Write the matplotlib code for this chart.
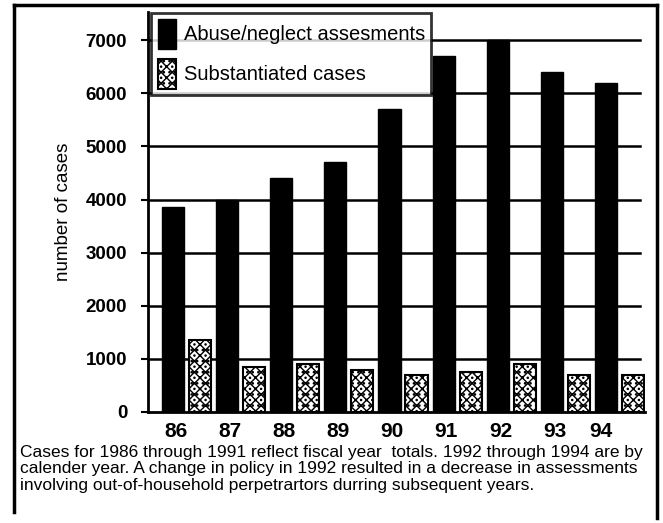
import matplotlib
matplotlib.use("Agg")
import matplotlib.pyplot as plt
from matplotlib.lines import Line2D
import numpy as np

years = ["86", "87", "88", "89", "90", "91", "92", "93", "94"]
assessments = [3850, 4000, 4400, 4700, 5700, 6700, 7000, 6400, 6200]
substantiated = [1350, 850, 900, 800, 700, 750, 900, 700, 700]
yticks = [0, 1000, 2000, 3000, 4000, 5000, 6000, 7000]
caption = ("Cases for 1986 through 1991 reflect fiscal year  totals. 1992 through 1994 are by\n"
           "calender year. A change in policy in 1992 resulted in a decrease in assessments\n"
           "involving out-of-household perpetrartors durring subsequent years.")

plt.rcParams['font.family'] = ['Liberation Sans', 'DejaVu Sans']
plt.rcParams['hatch.linewidth'] = 1.0

W, H = 663, 523
fig = plt.figure(figsize=(W / 100, H / 100), dpi=100)
ax = fig.add_axes([148 / W, 1 - 412 / H, (645 - 148) / W, (412 - 12) / H])

x = np.arange(len(years))
bw = 0.41
ax.bar(x, assessments, width=bw, color="black", edgecolor="black", zorder=3,
       label="Abuse/neglect assesments")
ax.bar(x + 0.5, substantiated, width=bw, color="white", edgecolor="black",
       hatch="xxx...", linewidth=1.5, zorder=3, label="Substantiated cases")

ax.set_xlim(-0.46, 8.72)
ax.set_ylim(0, 7530)
ax.set_yticks(yticks)
ax.set_yticklabels([str(v) for v in yticks], fontsize=13.5, fontweight="bold")
tick_offsets = [0.05, 0.05, 0.05, 0.05, 0.05, 0.05, 0.05, 0.05, -0.1]
ax.set_xticks(x + np.array(tick_offsets))
ax.set_xticklabels(years, fontsize=15, fontweight="bold")
ax.tick_params(axis="x", length=0, pad=7)
ax.tick_params(axis="y", length=5, width=1.5, pad=10, direction="out")

for v in yticks[1:]:
    ax.axhline(v, xmin=0, xmax=(640 - 148) / (645 - 148), color="black", lw=1.8, zorder=1)

for s in ["top", "right"]:
    ax.spines[s].set_visible(False)
ax.spines["left"].set_linewidth(2)
ax.spines["bottom"].set_linewidth(2)

ax.set_ylabel("number of cases", fontsize=13.5, labelpad=10)

leg = ax.legend(loc="upper left", bbox_to_anchor=(0.005, 1.0), frameon=True,
                fancybox=False, edgecolor="black", fontsize=14.5,
                handlelength=0.9, handleheight=1.9, handletextpad=0.4,
                borderpad=0.3, labelspacing=0.5, borderaxespad=0.05)
leg.get_frame().set_linewidth(2)
leg.set_zorder(5)

fig.text(20 / W, 1 - 445 / H, caption, fontsize=12.5, va="top", ha="left",
         linespacing=1.12)

# outer frame
fig.add_artist(Line2D([14 / W, 657 / W], [1 - 5 / H, 1 - 5 / H], color="black", lw=2.5,
                      transform=fig.transFigure))
fig.add_artist(Line2D([14 / W, 14 / W], [1 - 5 / H, 1 - 512 / H], color="black", lw=2.5,
                      transform=fig.transFigure))
fig.add_artist(Line2D([657 / W, 657 / W], [1 - 5 / H, 1 - 518 / H], color="black", lw=2.5,
                      transform=fig.transFigure))

fig.savefig("out.png", dpi=100)
